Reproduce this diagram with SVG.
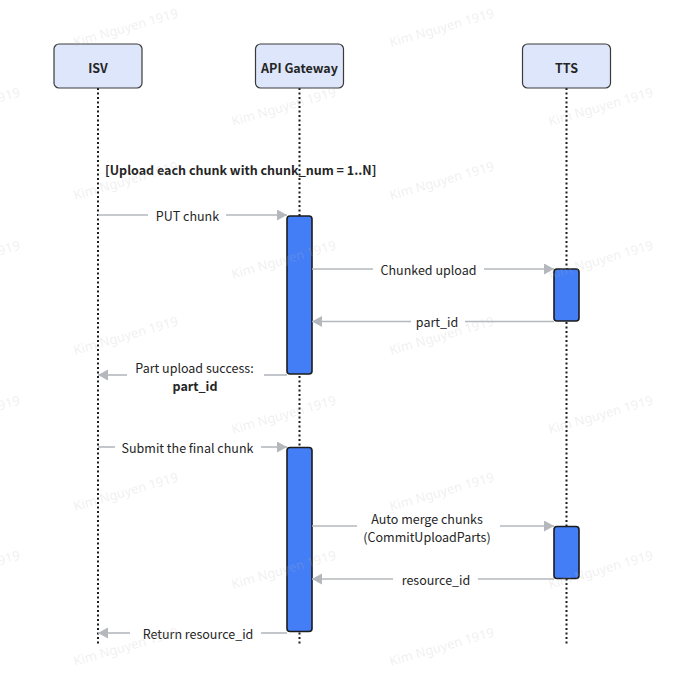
<svg xmlns="http://www.w3.org/2000/svg" width="686" height="687" viewBox="0 0 686 687">
  <defs>
    <style>
      .box { fill: #dde6fa; stroke: #3a3a3a; stroke-width: 1.2; }
      .act { fill: #437ef7; stroke: #1c1c1c; stroke-width: 1.6; }
      .life { stroke: #1c1c1c; stroke-width: 2; stroke-dasharray: 2 2.5; fill: none; }
      .msg { stroke: #b4b8bd; stroke-width: 1.6; fill: none; }
      .tip { marker-end: url(#arrow); }
      text { font-family: "Noto Sans CJK SC", "Noto Sans", sans-serif; fill: #252525; }
      .title { font-size: 12.5px; font-weight: bold; text-anchor: middle; dominant-baseline: central; }
      .lbl { font-size: 12.5px; text-anchor: middle; dominant-baseline: central; }
      .bold { font-weight: bold; }
      .loop { font-size: 12.5px; font-weight: bold; dominant-baseline: central; }
      .wm { font-family: "Noto Sans", sans-serif; font-size: 13px; fill: #b8b8b8; fill-opacity: 0.22; }
    </style>
    <marker id="arrow" markerUnits="userSpaceOnUse" markerWidth="12" markerHeight="12" viewBox="0 0 12 12" refX="10" refY="5.5" orient="auto">
      <path d="M0,0 L10,5.5 L0,11 z" fill="#b4b8bd"/>
    </marker>
  </defs>
  <rect x="0" y="0" width="686" height="687" fill="#ffffff"/>

  <g id="lifelines">
    <line class="life" x1="98" y1="88" x2="98" y2="646"/>
    <line class="life" x1="299.5" y1="88" x2="299.5" y2="646"/>
    <line class="life" x1="566.5" y1="88" x2="566.5" y2="646"/>
  </g>

  <g id="isv">
    <rect class="box" x="54" y="44" width="88" height="44" rx="5"/>
    <text class="title" x="98" y="67">ISV</text>
  </g>
  <g id="api-gateway">
    <rect class="box" x="255.5" y="44" width="88" height="44" rx="5"/>
    <text class="title" x="299.5" y="67">API Gateway</text>
  </g>
  <g id="tts">
    <rect class="box" x="522.5" y="44" width="88" height="44" rx="5"/>
    <text class="title" x="566.5" y="67">TTS</text>
  </g>

  <g id="loop-label">
    <text class="loop" x="105" y="169">[Upload each chunk with chunk_num = 1..N]</text>
  </g>

  <g id="activations">
    <rect id="act-api-1" class="act" x="287" y="216" width="25" height="158" rx="3"/>
    <rect id="act-tts-1" class="act" x="554" y="269" width="25" height="52" rx="3"/>
    <rect id="act-api-2" class="act" x="287" y="447.5" width="25" height="184" rx="3"/>
    <rect id="act-tts-2" class="act" x="554" y="526.5" width="25" height="52" rx="3"/>
  </g>

  <g id="connectors">
    <path class="msg" d="M98 215 H148"/>
    <path class="msg tip" d="M226 215 H287"/>
    <path class="msg" d="M312 269 H373"/>
    <path class="msg tip" d="M484 269 H554"/>
    <path class="msg" d="M554 321.5 H465"/>
    <path class="msg tip" d="M411 321.5 H312"/>
    <path class="msg" d="M287 375 H264"/>
    <path class="msg tip" d="M127 375 H98"/>
    <path class="msg" d="M98 447 H115"/>
    <path class="msg tip" d="M261 447 H287"/>
    <path class="msg" d="M312 526 H357"/>
    <path class="msg tip" d="M500 526 H554"/>
    <path class="msg" d="M554 579 H478"/>
    <path class="msg tip" d="M393 579 H312"/>
    <path class="msg" d="M287 633 H261"/>
    <path class="msg tip" d="M130 633 H98"/>
  </g>

  <g id="labels">
    <text class="lbl" x="187.5" y="215">PUT chunk</text>
    <text class="lbl" x="428.5" y="269">Chunked upload</text>
    <text class="lbl" x="437" y="321.5">part_id</text>
    <text class="lbl" x="194.5" y="367">Part upload success:</text>
    <text class="lbl bold" x="195" y="385">part_id</text>
    <text class="lbl" x="187.5" y="447">Submit the final chunk</text>
    <text class="lbl" x="427" y="518">Auto merge chunks</text>
    <text class="lbl" x="427" y="536">(CommitUploadParts)</text>
    <text class="lbl" x="436" y="579">resource_id</text>
    <text class="lbl" x="198" y="633">Return resource_id</text>
  </g>

  <g id="watermarks">
    <text class="wm" x="75" y="47" transform="rotate(-16 75 47)">Kim Nguyen 1919</text>
    <text class="wm" x="391" y="47" transform="rotate(-16 391 47)">Kim Nguyen 1919</text>
    <text class="wm" x="75" y="200" transform="rotate(-16 75 200)">Kim Nguyen 1919</text>
    <text class="wm" x="391" y="200" transform="rotate(-16 391 200)">Kim Nguyen 1919</text>
    <text class="wm" x="75" y="355" transform="rotate(-16 75 355)">Kim Nguyen 1919</text>
    <text class="wm" x="391" y="355" transform="rotate(-16 391 355)">Kim Nguyen 1919</text>
    <text class="wm" x="75" y="511" transform="rotate(-16 75 511)">Kim Nguyen 1919</text>
    <text class="wm" x="391" y="511" transform="rotate(-16 391 511)">Kim Nguyen 1919</text>
    <text class="wm" x="75" y="666" transform="rotate(-16 75 666)">Kim Nguyen 1919</text>
    <text class="wm" x="391" y="666" transform="rotate(-16 391 666)">Kim Nguyen 1919</text>
    <text class="wm" x="-83" y="126" transform="rotate(-16 -83 126)">Kim Nguyen 1919</text>
    <text class="wm" x="233" y="126" transform="rotate(-16 233 126)">Kim Nguyen 1919</text>
    <text class="wm" x="550" y="126" transform="rotate(-16 550 126)">Kim Nguyen 1919</text>
    <text class="wm" x="-83" y="279" transform="rotate(-16 -83 279)">Kim Nguyen 1919</text>
    <text class="wm" x="233" y="279" transform="rotate(-16 233 279)">Kim Nguyen 1919</text>
    <text class="wm" x="550" y="279" transform="rotate(-16 550 279)">Kim Nguyen 1919</text>
    <text class="wm" x="-83" y="434" transform="rotate(-16 -83 434)">Kim Nguyen 1919</text>
    <text class="wm" x="233" y="434" transform="rotate(-16 233 434)">Kim Nguyen 1919</text>
    <text class="wm" x="550" y="434" transform="rotate(-16 550 434)">Kim Nguyen 1919</text>
    <text class="wm" x="-83" y="589" transform="rotate(-16 -83 589)">Kim Nguyen 1919</text>
    <text class="wm" x="233" y="589" transform="rotate(-16 233 589)">Kim Nguyen 1919</text>
    <text class="wm" x="550" y="589" transform="rotate(-16 550 589)">Kim Nguyen 1919</text>
  </g>
</svg>
